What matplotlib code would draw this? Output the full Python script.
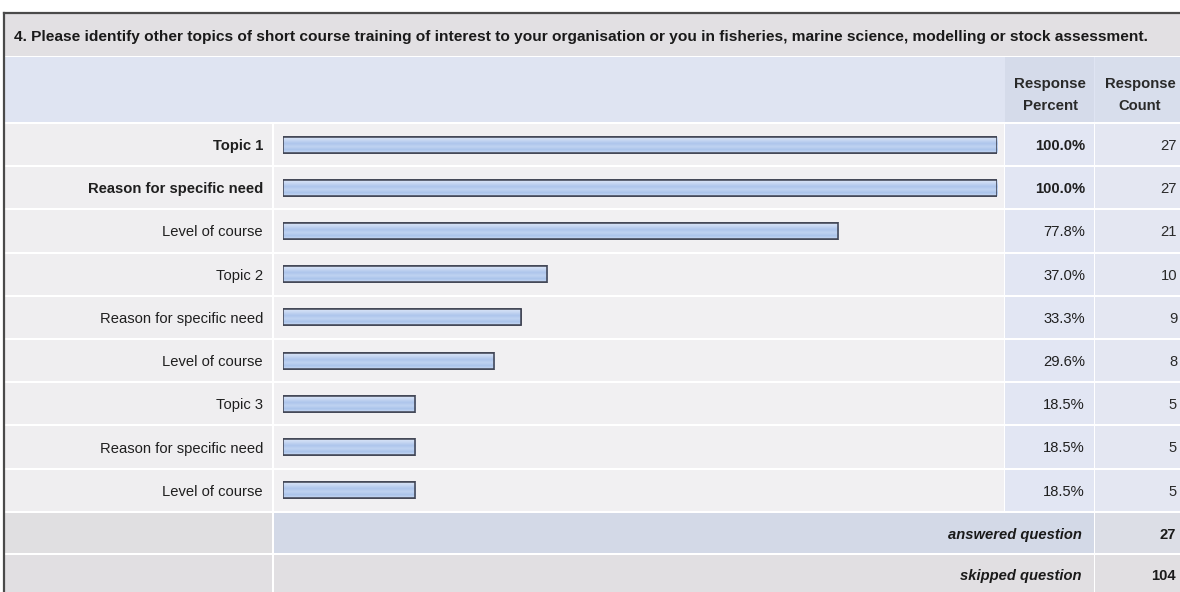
import matplotlib
matplotlib.use("Agg")
import matplotlib.pyplot as plt
import numpy as np
from matplotlib.patches import Rectangle
from matplotlib.colors import LinearSegmentedColormap
import matplotlib.transforms as mtrans

# ---------------- data ----------------
title = ("4. Please identify other topics of short course training of interest to your "
         "organisation or you in fisheries, marine science, modelling or stock assessment.")
categories = ["Topic 1", "Reason for specific need", "Level of course",
              "Topic 2", "Reason for specific need", "Level of course",
              "Topic 3", "Reason for specific need", "Level of course"]
percents = [100.0, 100.0, 77.8, 37.0, 33.3, 29.6, 18.5, 18.5, 18.5]
counts = [27, 27, 21, 10, 9, 8, 5, 5, 5]
header_percent = "Response\nPercent"
header_count = "Response\nCount"
footer_labels = ["answered question", "skipped question"]
footer_values = [27, 104]

# ---------------- layout (pixels) ----------------
W, H = 1180, 592
FONT = "Liberation Sans"
FS = 10.6
fig = plt.figure(figsize=(W / 100, H / 100), dpi=100)
fig.patch.set_facecolor("white")

bg = fig.add_axes([0, 0, 1, 1])
bg.set_xlim(0, W)
bg.set_ylim(H, 0)
bg.axis("off")

x_left, x_lab, x_bar0, x_bar1, x_pct, x_cnt, x_right = 4, 273, 283, 997, 1005, 1095, W
y_top, y_title_end, y_head_end = 13, 56, 123
row_h = 43.2
n = len(categories)
y_rows_end = y_head_end + n * row_h
y_ans_end = y_rows_end + 42

def rect(x0, y0, x1, y1, color, z=0):
    bg.add_patch(Rectangle((x0, y0), x1 - x0, y1 - y0, facecolor=color,
                           edgecolor="none", zorder=z))

# title row
rect(x_left, y_top, x_right, y_title_end, "#e2e0e3")
# header row
rect(x_left, y_title_end + 1, x_right, y_head_end - 1, "#dfe4f2")
rect(x_pct, y_title_end + 1, x_cnt - 1, y_head_end - 1, "#d5dbea")
rect(x_cnt, y_title_end + 1, x_right, y_head_end - 1, "#d8deec")
# data rows
for i in range(n):
    y0 = y_head_end + i * row_h + 1
    y1 = y_head_end + (i + 1) * row_h - 1
    rect(x_left, y0, x_lab - 1, y1, "#efeef0")
    rect(x_lab + 1, y0, x_pct - 1, y1, "#f1f0f2")
    rect(x_pct, y0, x_cnt - 1, y1, "#e2e6f3")
    rect(x_cnt, y0, x_right, y1, "#e4e7f2")
# footer rows
rect(x_left, y_rows_end + 1, x_lab - 1, y_ans_end - 1, "#e0dfe1")
rect(x_lab + 1, y_rows_end + 1, x_cnt - 1, y_ans_end - 1, "#d3d9e7")
rect(x_cnt, y_rows_end + 1, x_right, y_ans_end - 1, "#dcdee6")
rect(x_left, y_ans_end + 1, x_lab - 1, H, "#e1dfe2")
rect(x_lab + 1, y_ans_end + 1, x_cnt - 1, H, "#e1dfe2")
rect(x_cnt, y_ans_end + 1, x_right, H, "#e1dfe2")

# outer border (top & left)
bg.plot([x_left, x_right], [y_top, y_top], color="#4a4a4a", lw=1.6, zorder=5)
bg.plot([x_left, x_left], [y_top, H], color="#4a4a4a", lw=1.6, zorder=5)

# title
bg.text(14, 36, title, fontsize=11.15, fontweight="bold", family=FONT,
        va="center_baseline", ha="left", color="#1a1a1a")
# headers
bg.text(1050, 95, header_percent, fontsize=10.8, fontweight="bold", family=FONT,
        va="center", ha="center", color="#2a2a2a", linespacing=1.65)
bg.text(1140, 95, header_count, fontsize=10.6, fontweight="bold", family=FONT,
        va="center", ha="center", color="#2a2a2a", linespacing=1.7)

# ---------------- bar axes ----------------
ax = fig.add_axes([x_bar0 / W, (H - y_rows_end) / H,
                   (x_bar1 - x_bar0) / W, (y_rows_end - y_head_end) / H])
ax.set_xlim(0, 100)
ax.set_ylim(n - 0.5, -0.5)
ax.axis("off")
ax.patch.set_alpha(0)

ypos = np.arange(n)
bars = ax.barh(ypos, percents, height=16 / row_h, left=0,
               facecolor="#b4cbef", edgecolor="#3c4050", linewidth=1.1, zorder=3)
grad_cmap = LinearSegmentedColormap.from_list(
    "barg", ["#dae5f6", "#c6d7f2", "#adc5ec", "#c0d3f1", "#aac3eb", "#cbdbf3"])
grad = np.linspace(0, 1, 64).reshape(-1, 1)
for b in bars:
    x0, y0 = b.get_x(), b.get_y()
    w, h = b.get_width(), b.get_height()
    im = ax.imshow(grad, cmap=grad_cmap, aspect="auto",
                   extent=(x0, x0 + w, y0 + h, y0), zorder=3.5, interpolation="bilinear")
    im.set_clip_path(b)
    ax.add_patch(Rectangle((x0, y0), w, h, facecolor="none",
                           edgecolor="#3c4050", linewidth=1.1, zorder=4))

# row texts (x in pixel coords, y in row coords)
tr = mtrans.blended_transform_factory(bg.transData, ax.transData)
pmax = max(percents)
for i, (cat, p, c) in enumerate(zip(categories, percents, counts)):
    wt = "bold" if p == pmax else "normal"
    ax.text(263, i, cat, transform=tr, ha="right", va="center_baseline", fontsize=FS,
            fontweight=wt, family=FONT, color="#1f1f1f")
    ax.text(1085, i, f"{p:.1f}%", transform=tr, ha="right", va="center_baseline",
            fontsize=FS, fontweight=wt, family=FONT, color="#1f1f1f")
    ax.text(1177, i, f"{c}", transform=tr, ha="right", va="center_baseline", fontsize=FS,
            family=FONT, color="#2a2a2a")

# footer texts
footer_y = [(y_rows_end + y_ans_end) / 2 + 1, (y_ans_end + H) / 2 + 2]
for lab, val, yy in zip(footer_labels, footer_values, footer_y):
    bg.text(1082, yy, lab, ha="right", va="center_baseline", fontsize=FS,
            fontweight="bold", fontstyle="italic", family=FONT, color="#1a1a1a")
    bg.text(1176, yy, f"{val}", ha="right", va="center_baseline", fontsize=FS,
            fontweight="bold", family=FONT, color="#1a1a1a")

fig.savefig("out.png", dpi=100, facecolor="white")
